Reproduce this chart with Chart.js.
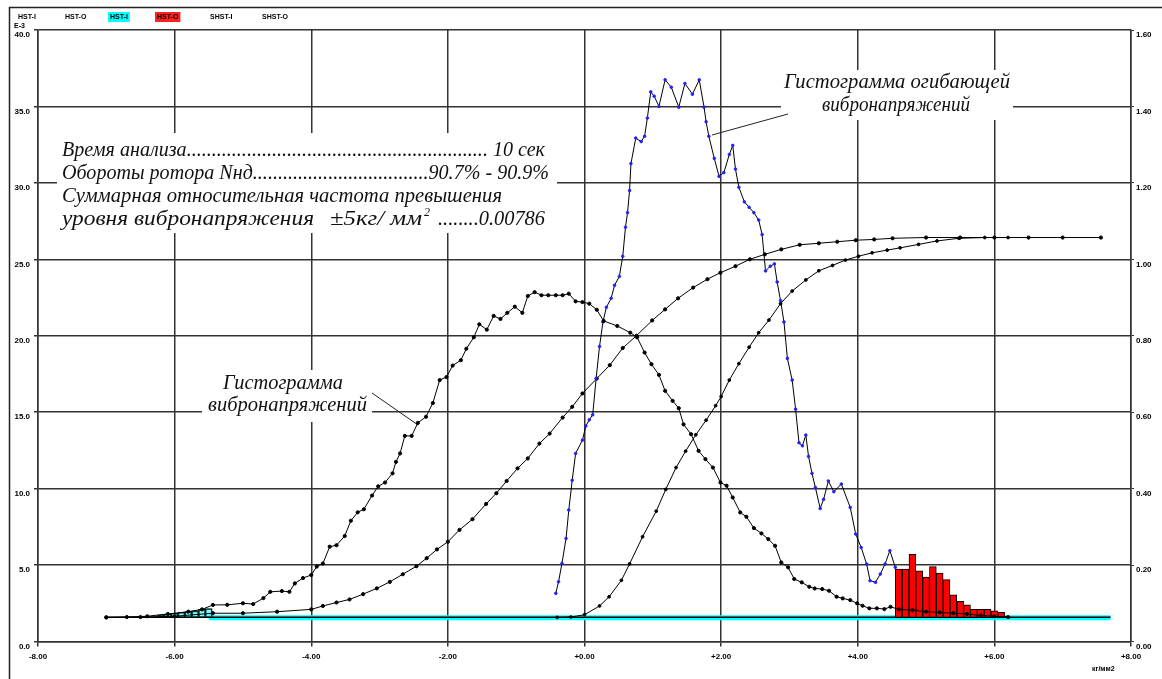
<!DOCTYPE html>
<html>
<head>
<meta charset="utf-8">
<script src="https://cdn.jsdelivr.net/npm/chart.js@4.4.1/dist/chart.umd.min.js"></script>
<style>
  html, body { margin: 0; padding: 0; background: #fff; }
  canvas { display: block; }
</style>
</head>
<body>
<canvas id="c" width="1162" height="679"></canvas>
<script>
// Гистограмма вибронапряжений: [напряжение, плотность]
const histogram = [
  [-7.0,1.58],[-6.7,1.6],[-6.4,1.65],[-6.1,1.8],[-5.8,1.95],[-5.6,2.1],[-5.44,2.39],[-5.23,2.4],
  [-5.0,2.5],[-4.85,2.45],[-4.7,2.84],[-4.6,3.25],[-4.43,3.3],[-4.32,3.25],[-4.24,3.8],[-4.12,4.15],
  [-4.0,4.35],[-3.92,4.9],[-3.83,5.1],[-3.73,6.2],[-3.63,6.3],[-3.51,6.9],[-3.42,7.9],[-3.32,8.45],
  [-3.23,8.65],[-3.11,9.55],[-3.02,10.15],[-2.92,10.4],[-2.81,11.0],[-2.76,11.75],[-2.7,12.3],
  [-2.63,13.45],[-2.53,13.45],[-2.44,14.3],[-2.32,14.7],[-2.22,15.6],[-2.12,17.1],[-2.02,17.3],
  [-1.93,18.05],[-1.81,18.4],[-1.73,19.15],[-1.62,19.9],[-1.54,20.75],[-1.43,20.4],[-1.33,21.3],
  [-1.23,21.1],[-1.13,21.5],[-1.02,21.9],[-0.91,21.5],[-0.83,22.6],[-0.73,22.85],[-0.63,22.65],
  [-0.53,22.65],[-0.42,22.65],[-0.32,22.65],[-0.23,22.75],[-0.13,22.25],[-0.03,22.2],[0.07,22.1],
  [0.18,21.7],[0.28,20.97],[0.48,20.64],[0.67,20.2],[0.77,19.9],[0.88,18.9],[0.98,18.14],
  [1.09,17.44],[1.18,16.4],[1.29,15.74],[1.38,15.26],[1.45,14.2],[1.56,13.56],[1.67,12.47],
  [1.77,11.93],[1.88,11.38],[1.99,10.4],[2.08,10.19],[2.17,9.42],[2.28,8.44],[2.37,8.16],
  [2.48,7.42],[2.59,7.07],[2.69,6.7],[2.79,6.26],[2.88,5.17],[2.98,4.85],[3.07,4.09],[3.18,3.87],
  [3.29,3.58],[3.37,3.47],[3.48,3.43],[3.58,3.32],[3.69,2.93],[3.78,2.82],[3.89,2.71],[3.99,2.5],
  [4.07,2.34],[4.17,2.17],[4.28,2.17],[4.39,2.12],[4.48,2.27],[4.6,2.1],[4.8,2.05],[5.0,1.95],
  [5.2,1.9],[5.4,1.85],[5.6,1.8],[5.8,1.7],[6.0,1.65],[6.2,1.6]
];

// Гистограмма огибающей вибронапряжений
const envelope = [
  [-0.42,3.15],[-0.38,3.91],[-0.33,5.11],[-0.27,6.74],[-0.23,8.6],[-0.18,10.55],[-0.13,12.3],
  [-0.03,13.17],[0.02,14.1],[0.07,14.5],[0.12,14.83],[0.17,17.2],[0.22,19.3],[0.27,20.9],
  [0.32,21.86],[0.39,22.45],[0.44,23.3],[0.51,23.88],[0.56,25.2],[0.6,27.1],[0.63,28.05],
  [0.66,29.5],[0.68,31.26],[0.75,32.93],[0.83,32.7],[0.88,33.05],[0.92,34.24],[0.97,35.95],
  [1.02,35.67],[1.09,35.0],[1.18,36.74],[1.27,36.26],[1.38,34.95],[1.47,36.5],[1.58,35.8],
  [1.68,36.74],[1.75,34.95],[1.78,34.0],[1.82,33.05],[1.9,31.6],[1.97,30.43],[2.04,30.67],
  [2.12,31.86],[2.17,32.45],[2.21,30.9],[2.26,29.71],[2.34,28.76],[2.41,28.4],[2.48,28.05],
  [2.55,27.57],[2.6,26.62],[2.65,24.24],[2.72,24.55],[2.78,24.7],[2.82,23.52],[2.87,22.3],
  [2.92,20.9],[2.97,18.52],[3.04,17.1],[3.09,15.2],[3.14,13.0],[3.19,12.8],[3.24,13.5],
  [3.28,12.1],[3.33,11.0],[3.38,10.07],[3.45,8.7],[3.5,9.3],[3.57,10.5],[3.65,9.8],[3.76,10.3],
  [3.89,8.77],[3.97,7.03],[4.05,6.15],[4.13,5.07],[4.18,3.98],[4.26,3.87],[4.33,4.41],[4.4,5.07],
  [4.47,5.94],[4.55,4.85]
];

// Накопленная частота (правая шкала)
const cumHistogram = [
  [-7.0,0.063],[-6.5,0.064],[-6.0,0.066],[-5.44,0.074],[-5.0,0.074],[-4.5,0.078],[-4.0,0.084],
  [-3.83,0.093],[-3.63,0.102],[-3.44,0.110],[-3.24,0.124],[-3.04,0.139],[-2.85,0.156],
  [-2.66,0.176],[-2.46,0.197],[-2.31,0.218],[-2.16,0.241],[-2.0,0.261],[-1.83,0.292],
  [-1.64,0.320],[-1.44,0.360],[-1.29,0.388],[-1.14,0.420],[-0.98,0.453],[-0.83,0.479],
  [-0.66,0.518],[-0.51,0.544],[-0.32,0.586],[-0.18,0.614],[-0.03,0.649],[0.18,0.688],
  [0.37,0.723],[0.56,0.768],[0.76,0.800],[0.99,0.840],[1.18,0.869],[1.37,0.898],[1.59,0.926],
  [1.8,0.948],[1.99,0.965],[2.21,0.982],[2.42,1.000],[2.64,1.013],[2.88,1.026],[3.15,1.038],
  [3.43,1.042],[3.7,1.046],[3.97,1.050],[4.24,1.052],[4.51,1.055],[5.0,1.057],[5.5,1.057],
  [6.0,1.057],[6.5,1.057],[7.0,1.057],[7.56,1.057]
];

const cumEnvelope = [
  [-0.4,0.063],[-0.2,0.064],[0.0,0.070],[0.22,0.093],[0.36,0.117],[0.54,0.160],[0.66,0.203],
  [0.85,0.274],[1.05,0.341],[1.19,0.398],[1.34,0.455],[1.48,0.498],[1.63,0.541],[1.78,0.579],
  [1.92,0.617],[2.0,0.641],[2.12,0.684],[2.26,0.727],[2.41,0.770],[2.55,0.808],[2.7,0.841],
  [2.87,0.884],[3.04,0.917],[3.24,0.946],[3.43,0.970],[3.63,0.984],[3.82,0.998],[4.01,1.008],
  [4.21,1.017],[4.43,1.024],[4.62,1.030],[4.89,1.039],[5.16,1.048],[5.48,1.055],[5.86,1.057],
  [6.2,1.057]
];

// Столбцы превышения уровня
const barBase = 1.58;
const exceedX   = [4.6,4.7,4.8,4.9,5.0,5.1,5.2,5.3,5.4,5.5,5.6,5.7,5.8,5.9,6.0,6.1];
const exceedTop = [4.73,4.73,5.7,4.62,4.22,4.9,4.48,4.05,3.05,2.62,2.4,2.1,2.1,2.1,2.0,1.9];
const lowX   = [-6.2,-6.1,-6.0,-5.9,-5.8,-5.7,-5.6,-5.5];
const lowTop = [1.75,1.8,1.85,1.9,1.95,2.0,2.1,2.15];

// Нулевой уровень
const zeroLine = [[-5.5,1.55],[7.7,1.55]];
const zeroBlack = [[-7.0,1.58],[7.7,1.58]];

// Шкалы
const xMin = -8, xMax = 8, xStep = 2;
const yLeftMax = 40, yLeftStep = 5;
const yRightMax = 1.6, yRightStep = 0.2;

// Подписи
const legendItems = ['HST-I','HST-O','HST-I','HST-O','SHST-I','SHST-O'];
const infoRows = [
  {left:'Время анализа', right:' 10 сек'},
  {left:'Обороты ротора Nнд', right:'90.7% - 90.9%'},
  {left:'Суммарная относительная частота превышения', right:''},
];
const infoLast = {text:'уровня вибронапряжения', unit:'±5кг/ мм', sup:'2', value:'0.00786'};
const labelHist = ['Гистограмма', 'вибронапряжений'];
const labelEnv = ['Гистограмма огибающей', 'вибронапряжений'];

const pts = arr => arr.map(p => ({x:p[0], y:p[1]}));

const SERIF = '"Liberation Serif", "DejaVu Serif", serif';
const SANS = '"Liberation Sans", Arial, sans-serif';
const TEXT_FONT = 'italic 20px ' + SERIF;

function fitString(ctx, str, x, y, width) {
  const w = ctx.measureText(str).width;
  ctx.save();
  ctx.translate(x, y);
  ctx.scale(width / w, 1);
  ctx.textAlign = 'left';
  ctx.fillText(str, 0, 0);
  ctx.restore();
}
function leaderString(ctx, left, right, width) {
  let n = 0;
  while (ctx.measureText(left + '.'.repeat(n + 1) + right).width <= width) { n++; }
  return left + '.'.repeat(n) + right;
}

const decor = {
  id: 'decor',
  beforeDatasetsDraw(chart) {
    const ctx = chart.ctx;
    ctx.save();
    // белые подложки под надписями
    ctx.fillStyle = '#fff';
    ctx.fillRect(57, 133, 500, 100);
    ctx.fillRect(202, 370, 170, 52);
    ctx.fillRect(781, 70, 232, 50);

    ctx.fillStyle = '#111';
    ctx.font = TEXT_FONT;
    ctx.textBaseline = 'alphabetic';
    const rowY = [156, 179, 202, 225];
    const rowW = [483, 487, 440];
    infoRows.forEach((r, i) => {
      const s = r.right ? leaderString(ctx, r.left, r.right, rowW[i]) : r.left;
      fitString(ctx, s, 62, rowY[i], rowW[i]);
    });
    // четвёртая строка с верхним индексом
    fitString(ctx, infoLast.text, 62, rowY[3], 252);
    fitString(ctx, infoLast.unit, 330, rowY[3], 92);
    ctx.font = 'italic 12px ' + SERIF;
    ctx.fillText(infoLast.sup, 424, rowY[3] - 9);
    ctx.font = TEXT_FONT;
    fitString(ctx, leaderString(ctx, '', infoLast.value, 107), 438, rowY[3], 107);

    // подписи кривых
    fitString(ctx, labelHist[0], 223, 389, 120);
    fitString(ctx, labelHist[1], 208, 411, 159);
    fitString(ctx, labelEnv[0], 784, 88, 226);
    fitString(ctx, labelEnv[1], 822, 111, 148);

    // выноски
    ctx.strokeStyle = '#222';
    ctx.lineWidth = 1;
    ctx.beginPath();
    ctx.moveTo(372, 393); ctx.lineTo(418, 425);
    ctx.moveTo(712, 135); ctx.lineTo(788, 114);
    ctx.stroke();
    ctx.restore();
  },
  afterDraw(chart) {
    const ctx = chart.ctx;
    ctx.save();
    // рамка
    ctx.strokeStyle = '#222';
    ctx.lineWidth = 1.5;
    ctx.beginPath();
    ctx.moveTo(9.5, 679); ctx.lineTo(9.5, 7.5); ctx.lineTo(1162, 7.5);
    ctx.stroke();
    // обозначения каналов
    ctx.font = 'bold 7px ' + SANS;
    ctx.textBaseline = 'middle';
    ctx.textAlign = 'left';
    const lx = [18, 65, 110, 157, 210, 262];
    const bg = [null, null, '#00ffff', '#ff2020', null, null];
    legendItems.forEach((t, i) => {
      const w = ctx.measureText(t).width;
      if (bg[i]) { ctx.fillStyle = bg[i]; ctx.fillRect(lx[i] - 2, 12, w + 4, 10); }
      ctx.fillStyle = '#000';
      ctx.fillText(t, lx[i], 17);
    });
    ctx.fillText('E-3', 14, 26);
    ctx.fillText('кг/мм2', 1092, 669);
    ctx.restore();
  }
};

const GRID = '#333333';
const TICK_FONT = { family: SANS, size: 8, weight: 'bold' };

new Chart(document.getElementById('c'), {
  type: 'line',
  data: {
    datasets: [
      { label: 'HST-I', data: pts(zeroLine), yAxisID: 'y', borderColor: '#00ffff', borderWidth: 5,
        pointRadius: 0, order: 20 },
      { label: 'base', data: pts(zeroBlack), yAxisID: 'y', borderColor: '#000', borderWidth: 1.5,
        pointRadius: 0, order: 15 },
      { type: 'bar', label: 'HST-O', data: exceedX.map((x, i) => ({x, y:[barBase, exceedTop[i]]})),
        yAxisID: 'y', backgroundColor: '#ff0000', borderColor: '#000', borderWidth: 1,
        borderSkipped: false, grouped: false, barPercentage: 1, categoryPercentage: 1, order: 10 },
      { type: 'bar', label: 'low', data: lowX.map((x, i) => ({x, y:[barBase, lowTop[i]]})),
        yAxisID: 'y', backgroundColor: 'rgba(0,255,255,0.5)', borderColor: '#000', borderWidth: 1,
        borderSkipped: false, grouped: false, barPercentage: 1, categoryPercentage: 1, order: 10 },
      { label: 'SHST-O', data: pts(cumEnvelope), yAxisID: 'y1', borderColor: '#000', borderWidth: 1,
        pointRadius: 1.4, pointBackgroundColor: '#000', pointBorderColor: '#000', order: 4 },
      { label: 'SHST-I', data: pts(cumHistogram), yAxisID: 'y1', borderColor: '#000', borderWidth: 1,
        pointRadius: 1.6, pointBackgroundColor: '#000', pointBorderColor: '#000', order: 3 },
      { label: 'envelope', data: pts(envelope), yAxisID: 'y', borderColor: '#000', borderWidth: 1,
        pointRadius: 1.3, pointBackgroundColor: '#2020ff', pointBorderColor: '#2020ff', order: 2 },
      { label: 'histogram', data: pts(histogram), yAxisID: 'y', borderColor: '#000', borderWidth: 1,
        pointRadius: 1.6, pointBackgroundColor: '#000', pointBorderColor: '#000', order: 1 }
    ]
  },
  options: {
    responsive: false,
    animation: false,
    events: [],
    layout: { padding: { top: 30, left: 0, right: 0, bottom: 0 } },
    plugins: { legend: { display: false }, tooltip: { enabled: false } },
    elements: { line: { tension: 0 } },
    scales: {
      x: {
        type: 'linear', min: xMin, max: xMax, offset: false,
        afterFit: s => { s.height = 37.5; },
        grid: { offset: false, color: GRID, lineWidth: 1.5, tickLength: 5, tickColor: GRID },
        border: { color: GRID, width: 1.5 },
        ticks: { stepSize: xStep, color: '#000', font: TICK_FONT, padding: 5,
          maxRotation: 0, autoSkip: false,
          callback: v => (v >= 0 ? '+' : '') + Number(v).toFixed(2) }
      },
      y: {
        position: 'left', min: 0, max: yLeftMax,
        ticks: { stepSize: yLeftStep, color: '#000', font: TICK_FONT, padding: 4, labelOffset: 5,
          callback: v => Number(v).toFixed(1) },
        afterFit: s => { s.width = 38; },
        grid: { color: GRID, lineWidth: 1.5, tickLength: 4, tickColor: GRID },
        border: { color: GRID, width: 1.5 }
      },
      y1: {
        position: 'right', min: 0, max: yRightMax,
        ticks: { stepSize: yRightStep, color: '#000', font: TICK_FONT, padding: 2, labelOffset: 5,
          callback: v => Number(v).toFixed(2) },
        afterFit: s => { s.width = 31; },
        grid: { drawOnChartArea: false, tickLength: 3, tickColor: GRID },
        border: { color: GRID, width: 1.5 }
      }
    }
  },
  plugins: [decor]
});
</script>
</body>
</html>
